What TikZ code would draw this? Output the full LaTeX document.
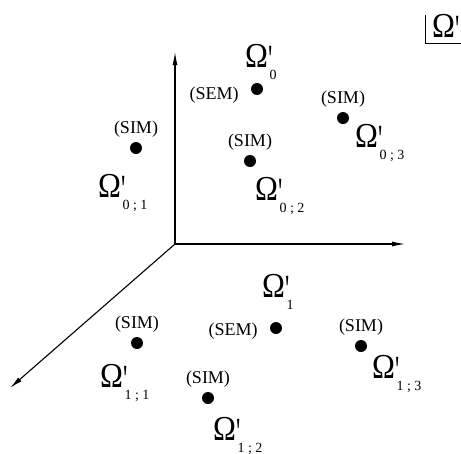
\documentclass[tikz,border=0pt]{standalone}
\usepackage{fontspec}
\setmainfont{Liberation Serif}
\usetikzlibrary{arrows.meta, positioning}
\tikzset{
  % punto di una soluzione
  punto/.style={circle, fill=black, minimum size=12pt, inner sep=0pt},
  % etichetta (SIM) / (SEM)
  lbl/.style={font=\fontsize{18}{20}\selectfont, inner sep=0pt},
  % etichetta Omega, ancorata alla linea di base
  omlbl/.style={inner sep=0pt, anchor=base west},
  % assi
  asse/.style={-{Latex[length=13pt, width=5pt]}, line width=1.1pt},
}
\newcommand{\Om}[1]{\fontsize{35}{36}\selectfont\scalebox{0.88}[1]{Ω}\rlap{\raisebox{-5pt}{\scalebox{0.6}[1]{\fontsize{40}{40}\selectfont\textquotesingle}}}\kern1.5pt\raisebox{-12pt}{\fontsize{14}{14}\selectfont #1}}

\begin{document}
\begin{tikzpicture}[x=1pt, y=-1pt]
  \useasboundingbox (0,0) rectangle (461,453);
  \coordinate (o) at (175,244);
  \coordinate (ey) at (175,52);
  \coordinate (ex) at (405,244);
  \coordinate (ez) at (10,388);
  \draw[asse] (o) -- (ey);
  \draw[asse] (o) -- (ex);
  \draw[asse] (o) -- (ez);
  \node[punto] (s0) at (257,89) {};
  \node[lbl, left=12pt of s0, yshift=-6pt] (l0) {(SEM)};
  \node[punto] (s1) at (276,328) {};
  \node[lbl, left=12pt of s1, yshift=-3pt] (l1) {(SEM)};
  \foreach \n/\x/\y in {s01/136/148, s02/250/161, s03/343/118, s11/137/343, s12/208/398, s13/361/346} {
    \node[punto] (\n) at (\x,\y) {};
    \node[lbl, above=4pt of \n] (l\n) {(SIM)};
  }
  \foreach \n/\x/\y/\s in {o0/245/67/0, o01/98/197/{0 ; 1}, o02/255/200/{0 ; 2}, o03/355/147/{0 ; 3},
    o1/262/297/1, o11/100/387/{1 ; 1}, o12/213/440/{1 ; 2}, o13/372/378/{1 ; 3}} {
    \node[omlbl] (\n) at (\x,\y) {\Om{\s}};
  }
  \draw[line width=0.8pt] (425,15) -- (425,43) -- (470,43);
  \node[omlbl] (oc) at (432,37) {\Om{}};
\end{tikzpicture}
\end{document}
